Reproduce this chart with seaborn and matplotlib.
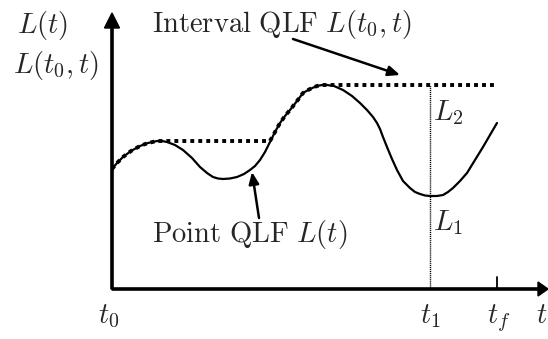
import numpy as np
import pandas as pd
import matplotlib
matplotlib.use("Agg")
import matplotlib.pyplot as plt
import seaborn as sns

# Sampled loss function L(t) along the time axis (t measured from t0)
t_vals = [0, 5, 11, 19, 28, 36, 45, 50, 55, 63, 71, 80, 88, 95, 101, 106,
          111, 118, 125, 132, 138, 143, 148, 153, 158, 163, 168, 173, 178,
          185, 191, 198, 205, 210, 215, 222, 231, 240, 248, 255, 261, 265,
          268, 271, 275, 280, 285, 291, 298, 303, 308, 313, 318, 325, 331,
          336, 341, 348, 355, 363, 371, 378, 385]
L_vals = [120, 126, 132, 138, 143, 146, 148, 148, 147, 144, 139, 131, 122,
          116, 112, 110.5, 110, 110.5, 112, 115, 119, 123, 129, 137, 147,
          157, 166, 173, 179, 188, 196, 200, 203, 204, 204, 203, 199, 193,
          186, 179, 172, 166, 160, 152, 142, 130, 119, 108, 101, 97, 95,
          93.5, 93, 93, 94, 97, 101, 108, 116, 129, 142, 154, 166]

# Marked instants on the time axis
t1 = 318
tf = 385

tick_labels = [r"$t_0$", r"$t_1$", r"$t_f$", r"$t$"]

df = pd.DataFrame({"t": t_vals, "L": L_vals})
# Interval QLF: running maximum of the point QLF since t0
df["Lmax"] = np.maximum.accumulate(df["L"].to_numpy())

sns.set_style("white")
plt.rcParams["mathtext.fontset"] = "cm"

fig = plt.figure(figsize=(5.48, 3.39), dpi=100)
ax = fig.add_axes([0, 0, 1, 1])
ax.set_xlim(-112, 436)
ax.set_ylim(-50, 289)
ax.axis("off")

sns.lineplot(data=df, x="t", y="L", ax=ax, color="black", lw=1.6,
             estimator=None, sort=False)
sns.lineplot(data=df, x="t", y="Lmax", ax=ax, color="black", lw=2.8,
             estimator=None, sort=False, linestyle=(0, (1, 1.05)))

# Coordinate axes with arrow heads
ax.arrow(0, 0, 436, 0, width=2.2, head_width=14, head_length=10,
         length_includes_head=True, color="black", clip_on=False)
ax.arrow(0, 0, 0, 276, width=2.2, head_width=15, head_length=15,
         length_includes_head=True, color="black", clip_on=False)

# Vertical marker at t1 up to the interval maximum, tick at tf
ax.plot([t1, t1], [0, df["Lmax"].iloc[-1]], color="black", lw=1.0,
        linestyle=(0, (0.8, 0.6)))
ax.plot([tf, tf], [0, 12], color="black", lw=1.3)

fs = 20.6
ax.text(-95, 256, r"$L(t)$", fontsize=fs, ha="left", va="baseline")
ax.text(-99, 216, r"$L(t_0,t)$", fontsize=fs, ha="left", va="baseline")
ax.text(40, 257, r"$\mathrm{Interval\ QLF}\ L(t_0,t)$", fontsize=fs,
        ha="left", va="baseline")
ax.text(40, 47, r"$\mathrm{Point\ QLF}\ L(t)$", fontsize=fs,
        ha="left", va="baseline")
ax.text(321, 169, r"$L_2$", fontsize=fs, ha="left", va="baseline")
ax.text(321, 59, r"$L_1$", fontsize=fs, ha="left", va="baseline")

# Time axis labels
for x, lab in zip([-3, t1, tf + 2, 430], tick_labels):
    ax.text(x, -34, lab, fontsize=fs, ha="center", va="baseline")

arrow_kw = dict(arrowstyle="-|>,head_length=0.7,head_width=0.3",
                color="black", lw=1.8, shrinkA=0, shrinkB=0)
ax.annotate("", xy=(288, 214), xytext=(181, 250), arrowprops=arrow_kw)
ax.annotate("", xy=(140, 117), xytext=(147, 71), arrowprops=arrow_kw)

fig.savefig("out.png", dpi=100)
